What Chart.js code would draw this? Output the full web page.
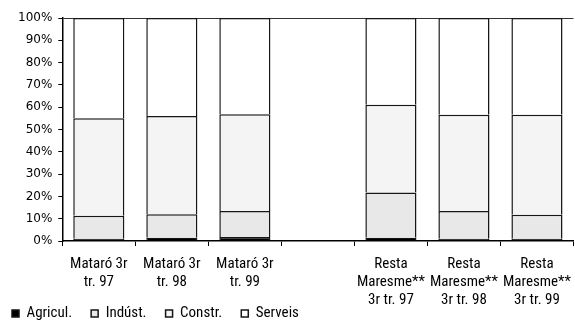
<!DOCTYPE html>
<html>
<head>
<meta charset="utf-8">
<script src="https://cdn.jsdelivr.net/npm/chart.js@4.4.1/dist/chart.umd.min.js"></script>
<style>
  html, body { margin: 0; padding: 0; background: #fff; overflow: hidden; }
  #wrap { width: 575px; height: 320px; overflow: hidden; position: relative; }
  canvas { position: absolute; left: 0; top: 0; }
</style>
</head>
<body>
<div id="wrap"><canvas id="c" width="580" height="320"></canvas></div>
<script>
const categories = [
  ['Mataró 3r', 'tr. 97'],
  ['Mataró 3r', 'tr. 98'],
  ['Mataró 3r', 'tr. 99'],
  '',
  ['Resta', 'Maresme**', '3r tr. 97'],
  ['Resta', 'Maresme**', '3r tr. 98'],
  ['Resta', 'Maresme**', '3r tr. 99']
];
const seriesNames = ['Agricul.', 'Indúst.', 'Constr.', 'Serveis'];
const agricul = [1.0, 1.5, 1.8, null, 1.5, 1.0, 1.0];
const industria = [10.3, 10.5, 11.7, null, 20.3, 12.4, 10.8];
const construccio = [43.8, 44.0, 43.3, null, 39.3, 43.2, 44.8];
const serveis = [44.9, 44.0, 43.2, null, 38.9, 43.4, 43.4];
const yTicks = [0, 10, 20, 30, 40, 50, 60, 70, 80, 90, 100];

const fills = ['#000000', '#e8e8e8', '#f4f4f4', '#ffffff'];
const values = [agricul, industria, construccio, serveis];

const narrow = "'Roboto Condensed', 'Open Sans', sans-serif";

const datasets = seriesNames.map((name, i) => ({
  label: name,
  data: values[i],
  backgroundColor: fills[i],
  borderColor: '#161616',
  borderWidth: 1.5,
  categoryPercentage: 1.0,
  barPercentage: 0.7
}));

const legendShift = {
  id: 'legendShift',
  afterLayout(chart) {
    const lg = chart.legend;
    if (lg) { lg.left -= 19; lg.top -= 31; }
  }
};

new Chart(document.getElementById('c'), {
  type: 'bar',
  data: { labels: categories, datasets },
  plugins: [legendShift],
  options: {
    responsive: false,
    animation: false,
    devicePixelRatio: 1,
    layout: { padding: { top: 18, left: 12, right: 0, bottom: -42 } },
    plugins: {
      tooltip: { enabled: false },
      legend: {
        position: 'bottom',
        align: 'start',
        labels: {
          boxWidth: 7,
          boxHeight: 7,
          padding: 19,
          color: '#000',
          font: { family: narrow, size: 15 }
        }
      }
    },
    scales: {
      x: {
        stacked: true,
        offset: true,
        grid: {
          display: true,
          offset: true,
          drawOnChartArea: false,
          tickLength: 5,
          tickColor: '#000',
          tickWidth: 1
        },
        border: { color: '#000', width: 1.5 },
        ticks: {
          color: '#000',
          maxRotation: 0,
          autoSkip: false,
          padding: 9,
          font: { family: narrow, size: 15, lineHeight: 1.2 }
        }
      },
      y: {
        stacked: true,
        min: 0,
        max: 100,
        afterBuildTicks(axis) { axis.ticks = yTicks.map(v => ({ value: v })); },
        grid: {
          drawOnChartArea: true,
          color: (ctx) => (ctx.tick && ctx.tick.value === 100) ? '#333' : 'rgba(0,0,0,0)',
          tickColor: '#000',
          tickLength: 4,
          lineWidth: 1
        },
        border: { color: '#000', width: 1.5 },
        ticks: {
          color: '#000',
          padding: 6,
          font: { family: "'DejaVu Sans', sans-serif", size: 12 },
          callback: (v) => v + '%'
        }
      }
    }
  }
});
</script>
</body>
</html>
